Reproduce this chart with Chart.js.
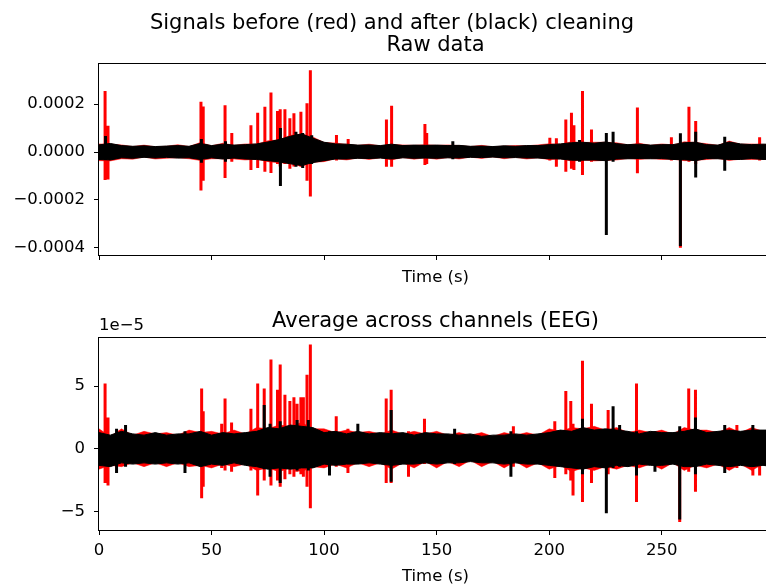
<!DOCTYPE html>
<html>
<head>
<meta charset="utf-8">
<script src="https://cdn.jsdelivr.net/npm/chart.js@4.4.1/dist/chart.umd.min.js"></script>
<style>
  html, body { margin: 0; padding: 0; background: #fff; overflow: hidden; width: 766px; height: 587px; }
  #wrap { position: relative; width: 784px; height: 587px; }
  canvas { position: absolute; left: 0; }
  #rawChart { top: 0; }
  #avgChart { top: 290px; }
</style>
</head>
<body>
<div id="wrap">
  <canvas id="rawChart" width="784" height="290"></canvas>
  <canvas id="avgChart" width="784" height="297"></canvas>
</div>
<script>
// tick labels
const xTicks = [0, 50, 100, 150, 200, 250];
const rawYTicks = [-0.0004, -0.0002, 0, 0.0002];
const avgYTicks = [-5, 0, 5];

// envelope grid (s); all amplitudes below are in microvolts
const gridTimes = [
  0, 5, 10, 15, 20, 25, 30, 35, 40, 45,
  50, 55, 60, 65, 70, 75, 80, 85, 90, 95,
  100, 105, 110, 115, 120, 125, 130, 135, 140, 145,
  150, 155, 160, 165, 170, 175, 180, 185, 190, 195,
  200, 205, 210, 215, 220, 225, 230, 235, 240, 245,
  250, 255, 260, 265, 270, 275, 280, 285, 290, 295,
  300];

// --- raw data panel ---
const rawRedHi = [
  34, 33, 30, 23, 29, 22, 24, 31, 23, 40,
  26, 37, 28, 34, 33, 47, 51, 70, 75, 63,
  40, 38, 32, 28, 33, 26, 32, 30, 28, 31,
  28, 30, 27, 23, 28, 22, 25, 27, 26, 30,
  35, 33, 43, 40, 41, 41, 39, 30, 37, 28,
  34, 30, 43, 40, 35, 28, 46, 33, 34, 32,
  31];
const rawRedLo = [
  -36, -37, -28, -30, -21, -29, -26, -24, -28, -35,
  -28, -28, -29, -33, -30, -40, -45, -48, -60, -43,
  -40, -28, -33, -25, -31, -24, -33, -23, -30, -24,
  -30, -23, -29, -21, -27, -20, -28, -22, -29, -24,
  -32, -28, -38, -33, -37, -35, -33, -27, -31, -27,
  -31, -30, -36, -35, -31, -27, -35, -30, -31, -30,
  -34];
const rawBlackHi = [
  30, 36, 27, 24, 26, 23, 25, 27, 24, 36,
  27, 33, 29, 31, 34, 42, 52, 66, 76, 58,
  41, 34, 33, 29, 30, 27, 33, 27, 29, 28,
  29, 27, 28, 24, 25, 23, 26, 24, 27, 27,
  31, 34, 39, 41, 37, 42, 35, 31, 33, 29,
  31, 31, 39, 41, 31, 29, 42, 34, 31, 33,
  32];
const rawBlackLo = [
  -31, -33, -24, -26, -22, -25, -22, -25, -24, -31,
  -24, -29, -25, -29, -31, -36, -41, -49, -56, -44,
  -36, -29, -29, -26, -27, -25, -29, -24, -26, -25,
  -26, -24, -25, -22, -23, -21, -24, -23, -25, -25,
  -28, -29, -34, -34, -33, -36, -29, -28, -27, -28,
  -27, -31, -32, -36, -27, -28, -31, -31, -27, -31,
  -30];

const rawRedSpikeT = [2.7, 4.0, 45.3, 46.3, 56.0, 59.0, 67.5, 70.5, 73.7, 76.4,
  79.3, 80.5, 82.6, 84.8, 86.6, 89.7, 92.4, 93.9, 105.5, 110.7,
  127.7, 130.0, 144.8, 145.6, 200.3, 203.2, 207.4, 209.9, 211.0, 214.8,
  218.8, 239.2, 254.3, 258.3, 262.1, 265.1, 293.5];
const rawRedSpikeHi = [255, 110, 210, 190, 196, 80, 112, 164, 189, 249,
  172, 179, 179, 141, 162, 168, 204, 342, 71, 55,
  136, 193, 117, 80, 60, 58, 136, 164, 112, 255,
  94, 186, 62, 30, 189, 130, 62];
const rawRedSpikeLo = [-117, -115, -161, -120, -108, -40, -75, -67, -82, -88,
  -50, -60, -50, -70, -60, -60, -120, -186, -35, -30,
  -61, -61, -54, -50, -35, -61, -82, -70, -75, -96,
  -40, -89, -35, -400, -40, -50, -35];

const rawBlackSpikeT = [2.9, 45.5, 56.2, 80.6, 87.5, 90.5, 94.5, 157.2, 213.5, 225.4, 228.4, 258.3, 265.1, 278.0];
const rawBlackSpikeHi = [67, 55, 45, 100, 85, 80, 70, 45, 50, 80, 85, 79, 85, 64];
const rawBlackSpikeLo = [-33, -45, -40, -142, -61, -67, -50, -30, -40, -346, -40, -392, -106, -78];

// --- average across channels panel ---
const avgRedHi = [
  16, 10, 16, 11, 14, 12, 13, 11, 15, 13,
  14, 12, 15, 12, 17, 16, 19, 18, 21, 16,
  16, 13, 15, 13, 14, 12, 15, 12, 14, 12,
  14, 11, 13, 11, 13, 10, 13, 11, 13, 11,
  16, 14, 17, 16, 18, 15, 17, 13, 15, 13,
  15, 12, 17, 15, 15, 13, 17, 13, 17, 14,
  17];
const avgRedLo = [
  -16, -13, -14, -11, -14, -11, -14, -11, -14, -13,
  -15, -12, -14, -12, -17, -15, -18, -15, -18, -14,
  -15, -12, -15, -11, -14, -11, -16, -11, -15, -10,
  -15, -10, -14, -9, -14, -10, -15, -10, -15, -11,
  -16, -13, -18, -15, -17, -14, -16, -13, -15, -12,
  -16, -11, -17, -13, -15, -12, -17, -12, -17, -12,
  -17];
const avgBlackHi = [
  13, 11, 14, 12, 11, 13, 11, 12, 12, 14,
  11, 13, 12, 13, 14, 17, 16, 19, 18, 17,
  13, 14, 12, 14, 12, 13, 12, 13, 11, 13,
  12, 12, 11, 12, 10, 11, 11, 12, 11, 12,
  13, 15, 14, 17, 15, 16, 15, 14, 12, 14,
  13, 13, 14, 16, 13, 14, 15, 14, 15, 15,
  15];
const avgBlackLo = [
  -13, -14, -11, -12, -11, -12, -11, -12, -11, -14,
  -12, -13, -11, -13, -14, -16, -15, -16, -15, -15,
  -12, -13, -12, -12, -11, -12, -13, -12, -12, -11,
  -12, -11, -11, -10, -11, -11, -12, -11, -12, -12,
  -13, -14, -15, -16, -14, -15, -13, -14, -12, -13,
  -13, -12, -14, -14, -12, -13, -14, -13, -14, -13,
  -14];

const avgRedSpikeT = [2.7, 4.0, 45.6, 46.3, 54.5, 56.0, 58.9, 67.5, 70.5, 73.4,
  76.4, 79.3, 80.5, 82.6, 84.8, 86.6, 88.0, 89.7, 90.8, 92.4,
  93.9, 105.4, 110.6, 127.6, 129.8, 137.5, 144.6, 184.1, 202.5, 207.4,
  209.6, 210.6, 214.8, 218.8, 226.2, 238.8, 258.0, 262.0, 265.0, 283.4,
  290.5, 293.5];
const avgRedSpikeHi = [52, 25, 48, 30, 20, 40, 21, 32, 52, 48,
  71, 47, 67, 43, 38, 41, 36, 41, 41, 59,
  83, 26, 16, 40, 47, 14, 24, 18, 22, 46,
  38, 20, 70, 36, 31, 52, 15, 48, 47, 19,
  15, 15];
const avgRedSpikeLo = [-27, -29, -39, -30, -15, -17, -18, -17, -37, -25,
  -29, -25, -30, -24, -20, -22, -18, -20, -22, -30,
  -47, -14, -19, -27, -27, -22, -12, -14, -23, -20,
  -25, -37, -42, -27, -20, -42, -58, -18, -34, -15,
  -21, -21];

const avgBlackSpikeT = [7.8, 11.8, 38.2, 73.4, 76.0, 80.5, 88.0, 93.0, 102.4, 115.0,
  129.8, 158.0, 183.0, 214.8, 225.4, 228.4, 231.3, 238.8, 247.0, 258.0,
  265.0, 278.0, 290.5];
const avgBlackSpikeHi = [16, 19, 14, 35, 20, 22, 23, 23, 14, 20,
  31, 16, 14, 24, 15, 34, 19, 14, 14, 18,
  25, 19, 19];
const avgBlackSpikeLo = [-19, -14, -19, -16, -22, -27, -17, -17, -21, -12,
  -26, -12, -22, -20, -51, -15, -14, -21, -18, -56,
  -20, -19, -14];

const FONT = "'DejaVu Sans', 'Liberation Sans', sans-serif";
const RED = '#ff0000';
const BLACK = '#000000';
const X_MAX = 299;
const TICK_SIZE = 16.5;
const TITLE_SIZE = 21;

const band = (vals, k) => gridTimes.map((t, i) => ({ x: t, y: vals[i] * k }));

function spikes(ts, his, los, k) {
  const out = [];
  ts.forEach((t, i) => {
    out.push({ x: t, y: los[i] * k }, { x: t, y: his[i] * k }, { x: t, y: null });
  });
  return out;
}

function panelDatasets(p, k) {
  const common = { pointRadius: 0, tension: 0, spanGaps: false };
  return [
    { ...common, data: band(p.redHi, k), borderColor: RED, backgroundColor: RED, borderWidth: 0.5, fill: '+1', order: 3 },
    { ...common, data: band(p.redLo, k), borderColor: RED, borderWidth: 0.5, fill: false, order: 3 },
    { ...common, data: spikes(p.redT, p.redSH, p.redSL, k), borderColor: RED, borderWidth: 3, fill: false, order: 3 },
    { ...common, data: band(p.blackHi, k), borderColor: BLACK, backgroundColor: BLACK, borderWidth: 1, fill: '+1', order: 1 },
    { ...common, data: band(p.blackLo, k), borderColor: BLACK, borderWidth: 1, fill: false, order: 1 },
    { ...common, data: spikes(p.blackT, p.blackSH, p.blackSL, k), borderColor: BLACK, borderWidth: 3, fill: false, order: 1 },
  ];
}

const minus = (s) => s.replace('-', '\u2212');
const fixedTicks = (vals) => (s) => { s.ticks = vals.map(v => ({ value: v })); };

const framePlugin = {
  id: 'frame',
  afterDatasetsDraw(chart) {
    const { ctx, chartArea: a } = chart;
    ctx.save();
    ctx.strokeStyle = '#000';
    ctx.lineWidth = 1;
    ctx.strokeRect(Math.round(a.left) - 0.5, Math.round(a.top) + 0.5,
      Math.round(a.right - a.left) + 1, Math.round(a.bottom - a.top));
    ctx.restore();
  }
};

function xScale(showLabels, xHeight, titlePad) {
  return {
    type: 'linear', min: 0, max: X_MAX, bounds: 'data',
    afterBuildTicks: fixedTicks(xTicks),
    afterFit: (s) => { s.height = xHeight; },
    border: { display: false },
    grid: { drawOnChartArea: false, drawTicks: true, tickLength: 5, color: '#000', lineWidth: 1 },
    ticks: {
      maxRotation: 0, padding: 6, color: '#000',
      font: { family: FONT, size: TICK_SIZE },
      callback: (v) => showLabels ? String(v) : ''
    },
    title: { display: true, text: 'Time (s)', color: '#000', font: { family: FONT, size: TICK_SIZE }, padding: { top: 0, bottom: titlePad } }
  };
}

// left layout padding 12 + axis width 87 puts the plot's left edge at x = 99
function yScale(min, max, tickVals, fmt) {
  return {
    type: 'linear', min, max, bounds: 'data',
    afterBuildTicks: fixedTicks(tickVals),
    afterFit: (s) => { s.width = 87; },
    border: { display: false },
    grid: { drawOnChartArea: false, drawTicks: true, tickLength: 5, color: '#000', lineWidth: 1 },
    ticks: { padding: 9, color: '#000', font: { family: FONT, size: TICK_SIZE }, callback: fmt }
  };
}

const titleFont = { family: FONT, size: TITLE_SIZE, weight: 'normal', lineHeight: 1 };
const pad = { left: 12, right: 12, top: 0, bottom: 0 };

// raw data (volts)
new Chart(document.getElementById('rawChart'), {
  type: 'line',
  data: {
    datasets: panelDatasets({
      redHi: rawRedHi, redLo: rawRedLo, redT: rawRedSpikeT, redSH: rawRedSpikeHi, redSL: rawRedSpikeLo,
      blackHi: rawBlackHi, blackLo: rawBlackLo, blackT: rawBlackSpikeT, blackSH: rawBlackSpikeHi, blackSL: rawBlackSpikeLo
    }, 1e-6)
  },
  options: {
    responsive: false, animation: false, events: [],
    layout: { padding: pad },
    plugins: {
      legend: { display: false }, tooltip: { enabled: false },
      title: { display: true, text: 'Signals before (red) and after (black) cleaning', color: '#000',
        font: titleFont, padding: { top: 13, bottom: 0 } },
      subtitle: { display: true, fullSize: false, text: 'Raw data', color: '#000',
        font: titleFont, padding: { top: 1.5, bottom: 6.5 } }
    },
    scales: {
      x: xScale(false, 35, 2.8),
      y: yScale(-0.00043, 0.000372, rawYTicks, (v) => {
        if (Math.abs(v) < 1e-12) return '0.0000';
        return minus(v.toFixed(4));
      })
    }
  },
  plugins: [framePlugin]
});

// average across channels (units of 1e-5 V)
const offsetTextPlugin = {
  id: 'offsetText',
  afterDraw(chart) {
    const { ctx, chartArea: a } = chart;
    ctx.save();
    ctx.font = `${TICK_SIZE}px ${FONT}`;
    ctx.fillStyle = '#000';
    ctx.textAlign = 'left';
    ctx.textBaseline = 'bottom';
    ctx.fillText('1e\u22125', a.left, a.top - 3);
    ctx.restore();
  }
};

new Chart(document.getElementById('avgChart'), {
  type: 'line',
  data: {
    datasets: panelDatasets({
      redHi: avgRedHi, redLo: avgRedLo, redT: avgRedSpikeT, redSH: avgRedSpikeHi, redSL: avgRedSpikeLo,
      blackHi: avgBlackHi, blackLo: avgBlackLo, blackT: avgBlackSpikeT, blackSH: avgBlackSpikeHi, blackSL: avgBlackSpikeLo
    }, 0.1)
  },
  options: {
    responsive: false, animation: false, events: [],
    layout: { padding: pad },
    plugins: {
      legend: { display: false }, tooltip: { enabled: false },
      title: { display: true, fullSize: false, text: 'Average across channels (EEG)', color: '#000',
        font: titleFont, padding: { top: 21.5, bottom: 4.5 } }
    },
    scales: {
      x: xScale(true, 57, 0.8),
      y: yScale(-6.43, 8.89, avgYTicks, (v) => minus(String(Math.round(v))))
    }
  },
  plugins: [framePlugin, offsetTextPlugin]
});
</script>
</body>
</html>
